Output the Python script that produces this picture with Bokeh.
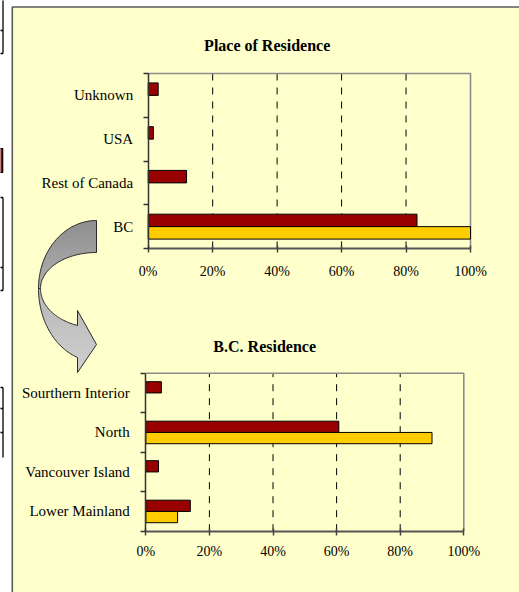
import numpy as np
from bokeh.plotting import figure
from bokeh.models import Range1d, LinearAxis, FixedTicker, PrintfTickFormatter, CustomJSTickFormatter
from bokeh.core.properties import value
from bokeh.embed import file_html
from bokeh.resources import INLINE

# ---------------- data ----------------
title_1 = "Place of Residence"
categories_1 = ["BC", "Rest of Canada", "USA", "Unknown"]          # bottom -> top
red_share_1 = [83.4, 11.9, 1.6, 3.1]
yellow_share_1 = [100.0, 0.0, 0.0, 0.0]

title_2 = "B.C. Residence"
categories_2 = ["Lower Mainland", "Vancouver Island", "North", "Sourthern Interior"]
red_share_2 = [14.0, 4.0, 60.7, 4.9]
yellow_share_2 = [10.0, 0.0, 90.0, 0.0]

pct_ticks = [0, 20, 40, 60, 80, 100]
grid_ticks = [20, 40, 60, 80]

# ---------------- styling / layout ----------------
RED = "#990000"
YELLOW = "#FFCC00"
PANEL = "#FFFFCC"
FONT = "Liberation Serif"
W, H = 519, 592
X0, Y0 = 0, 0  # page offset of the canvas


def fit(v0, p0, v1, p1, pa, pb):
    k = (v1 - v0) / (p1 - p0)
    return Range1d(start=v0 + (pa - p0) * k, end=v0 + (pb - p0) * k)


p = figure(width=W, height=H, x_range=Range1d(X0, X0 + W), y_range=Range1d(Y0 + H, Y0),
           x_axis_type=None, y_axis_type=None, toolbar_location=None, output_backend="svg",
           min_border_left=0, min_border_right=0, min_border_top=0, min_border_bottom=0,
           outline_line_color=None, background_fill_color="white", border_fill_color="white")
p.grid.visible = False

# chart frames (page pixels of plot areas)
charts = [
    dict(xr="x1", yr="y1", left=147.7, right=470.0, top=73.0, bottom=248.0,
         cats=categories_1, red=red_share_1, yel=yellow_share_1, title=title_1,
         tx=266.7, ty=45.0, standoff=11, lab_standoff=10),
    dict(xr="x2", yr="y2", left=145.3, right=463.3, top=372.7, bottom=530.7,
         cats=categories_2, red=red_share_2, yel=yellow_share_2, title=title_2,
         tx=264.2, ty=346.0, standoff=9, lab_standoff=11),
]
p.extra_x_ranges = {c["xr"]: fit(0, c["left"], 100, c["right"], X0, X0 + W) for c in charts}
p.extra_y_ranges = {c["yr"]: fit(-0.5, c["bottom"], 3.5, c["top"], Y0 + H, Y0) for c in charts}

# fragments of neighbouring page content at the far left edge
p.quad(left=-2, right=2.2, top=148, bottom=172, fill_color=RED, line_color="black", line_width=1.2)
p.segment(x0=[2.5, 2.5, 2.5], y0=[-2, 197, 387], x1=[2.5, 2.5, 2.5], y1=[53, 290, 457],
          line_color="black", line_width=1.3)
p.segment(x0=[-1] * 8, y0=[30, 53, 197, 267, 290, 387, 408, 432],
          x1=[2.5] * 8, y1=[30, 53, 197, 267, 290, 387, 408, 432],
          line_color="black", line_width=1.3)

# panel background
p.quad(left=11.8, right=X0 + W + 20, top=6.5, bottom=Y0 + H + 20,
       fill_color=PANEL, line_color="#5a5a5a", line_width=1.6)

# ---------------- curved arrow (decoration) ----------------
def arc(cx, cy, rx, ry, a0, a1, n=50):
    a = np.radians(np.linspace(a0, a1, n))
    return list(zip(cx + rx * np.cos(a), cy - ry * np.sin(a)))

upper = arc(96, 288, 58, 68, 90, 180) + arc(96, 288, 56, 36, 180, 90)
a_in = 180 + np.degrees(np.arccos(19 / 56))
a_out = 180 + np.degrees(np.arccos(19 / 58))
lower = (arc(96, 288, 56, 39.3, 180, a_in)
         + [(77, 310), (96, 344), (77, 372), (77, 357)]
         + arc(96, 288, 58, 73, a_out, 180))


def clip_half(pts, y0, sign):
    out = []
    n = len(pts)
    for i in range(n):
        a, b = pts[i], pts[(i + 1) % n]
        fa, fb = sign * (a[1] - y0), sign * (b[1] - y0)
        if fa >= 0:
            out.append(a)
        if (fa >= 0) != (fb >= 0):
            t = fa / (fa - fb)
            out.append((a[0] + t * (b[0] - a[0]), a[1] + t * (b[1] - a[1])))
    return out


def gradient_strips(poly, y_top, y_bot, c_top, c_bot, step=1.5):
    xs, ys, cols = [], [], []
    y = y_top
    while y < y_bot:
        band = clip_half(clip_half(poly, y, +1), y + step + 0.6, -1)
        if len(band) >= 3:
            f = (y - y_top) / (y_bot - y_top)
            g = int(round(c_top + f * (c_bot - c_top)))
            xs.append([q[0] for q in band])
            ys.append([q[1] for q in band])
            cols.append("#%02x%02x%02x" % (g, g, g))
        y += step
    return xs, ys, cols

for poly, yt, yb, ct, cb in [(upper, 219, 290, 0x8e, 0xb2), (lower, 286, 373, 0xb6, 0xd0)]:
    xs, ys, cols = gradient_strips(poly, yt, yb, ct, cb)
    p.patches(xs=xs, ys=ys, fill_color=cols, line_color=None)
    p.patch(x=[q[0] for q in poly], y=[q[1] for q in poly], fill_color=None,
            line_color="#2a2a2a", line_width=1)

# ---------------- charts ----------------
BAR_H = 0.285
for c in charts:
    xr, yr = c["xr"], c["yr"]
    n = len(c["cats"])
    # dashed gridlines
    p.segment(x0=grid_ticks, y0=-0.5, x1=grid_ticks, y1=n - 0.5, line_color="black",
              line_width=1, line_dash="7 7", x_range_name=xr, y_range_name=yr)
    # plot-area border (top & right)
    p.line(x=[0, 100, 100], y=[n - 0.5, n - 0.5, -0.5], line_color="#8c8c8c", line_width=1.6,
           x_range_name=xr, y_range_name=yr)
    # bars
    idx = list(range(n))
    p.hbar(y=[i + BAR_H / 2 for i in idx], left=0, right=c["red"], height=BAR_H,
           fill_color=RED, line_color="black", line_width=1, x_range_name=xr, y_range_name=yr)
    yi = [i for i in idx if c["yel"][i] > 0]
    p.hbar(y=[i - BAR_H / 2 for i in yi], left=0, right=[c["yel"][i] for i in yi], height=BAR_H,
           fill_color=YELLOW, line_color="black", line_width=1, x_range_name=xr, y_range_name=yr)

    xa = LinearAxis(x_range_name=xr, y_range_name=yr, fixed_location=-0.5, bounds=(0, 100),
                    ticker=FixedTicker(ticks=pct_ticks), formatter=PrintfTickFormatter(format="%d%%"),
                    major_tick_in=3, major_tick_out=4, minor_tick_in=0, minor_tick_out=0,
                    axis_line_color="#555555", axis_line_width=2,
                    major_tick_line_color="#444444", major_tick_line_width=1.5,
                    major_label_text_font=FONT, major_label_text_font_size="14px",
                    major_label_text_color="black", major_label_standoff=c["standoff"])
    p.add_layout(xa, "below")

    ya = LinearAxis(x_range_name=xr, y_range_name=yr, fixed_location=0, bounds=(-0.5, n - 0.5),
                    ticker=FixedTicker(ticks=idx, minor_ticks=[i - 0.5 for i in range(n + 1)]),
                    formatter=CustomJSTickFormatter(args=dict(labels=c["cats"]),
                                                    code="const v = labels[Math.round(tick)]; return v == null ? '' : v;"),
                    major_tick_in=0, major_tick_out=0, minor_tick_in=0, minor_tick_out=5,
                    minor_tick_line_color="#333333", minor_tick_line_width=1.5,
                    axis_line_color="#333333", axis_line_width=1.5,
                    major_label_text_font=FONT, major_label_text_font_size="15px",
                    major_label_text_color="black", major_label_standoff=c["lab_standoff"])
    p.add_layout(ya, "left")

    p.text(x=[c["tx"]], y=[c["ty"]], text=[c["title"]], text_font=value(FONT),
           text_font_style="bold", text_font_size="16px", text_align="center",
           text_baseline="alphabetic", text_color="black")

open("out.html", "w").write(file_html(p, INLINE))
